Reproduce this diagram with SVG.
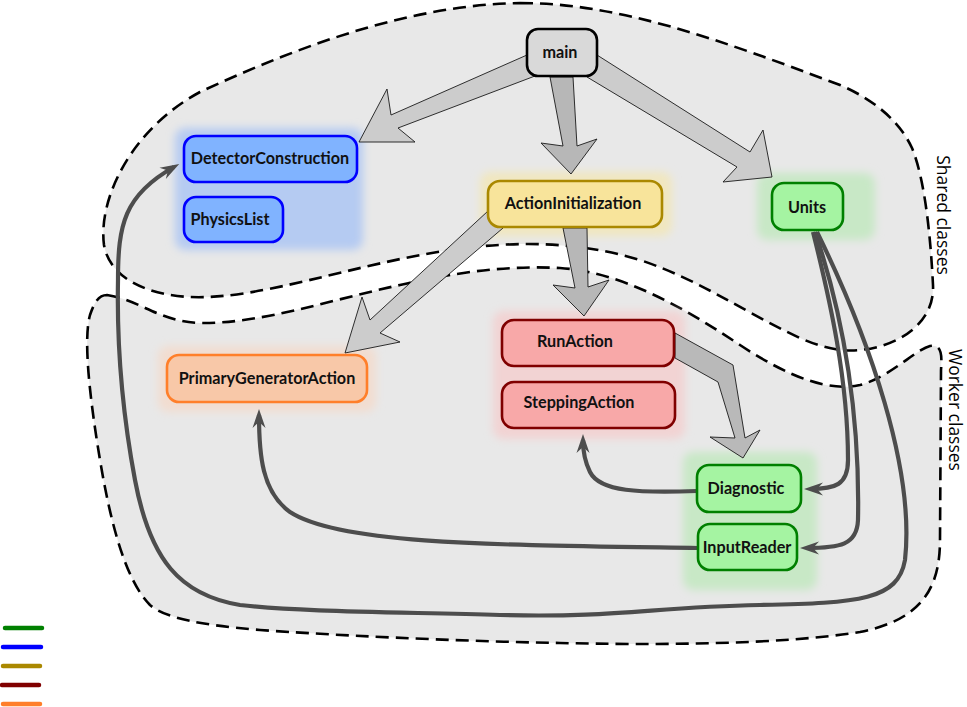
<svg xmlns="http://www.w3.org/2000/svg" width="967" height="707" viewBox="0 0 967 707">
  <style>
    .region { fill: #e8e8e8; stroke: #000; stroke-width: 2.6; stroke-dasharray: 13 7; }
    .glow { filter: url(#soft); }
    .fat { stroke: #1a1a1a; stroke-width: 0.9; stroke-linejoin: miter; }
    .link { fill: none; stroke: #4d4d4d; stroke-width: 4.2; marker-end: url(#head); }
    .box { stroke-width: 2.6; }
    .label { font-family: Lato, "Open Sans", "DejaVu Sans", sans-serif; font-weight: bold; font-size: 16.2px; fill: #111; text-anchor: middle; }
    .side { font-family: "Open Sans", "DejaVu Sans", sans-serif; font-size: 17.5px; fill: #000; text-anchor: middle; }
    .legend { stroke-width: 4.5; stroke-linecap: round; }
  </style>
  <defs>
    <filter id="soft" x="-20%" y="-20%" width="140%" height="140%">
      <feGaussianBlur stdDeviation="4"/>
    </filter>
    <marker id="head" viewBox="-14 -8 22 16" refX="0" refY="0" markerWidth="22" markerHeight="16" markerUnits="userSpaceOnUse" orient="auto">
      <path d="M 6 0 L -13 -6.5 L -7 0 L -13 6.5 Z" fill="#4d4d4d"/>
    </marker>
  </defs>

  <!-- class regions -->
  <g id="worker-region">
    <path class="region" d="M 107 295 C 140 300, 160 322, 200 323 C 260 324, 330 300, 400 285 C 450 274, 500 265, 560 268 C 620 272, 680 305, 740 345 C 790 378, 830 392, 860 385 C 890 377, 915 350, 930 346 C 942 344, 942 355, 941 370 L 940 540 C 940 590, 920 620, 860 632 C 780 645, 650 645, 560 643 C 450 641, 330 635, 260 630 C 200 625, 165 618, 150 605 C 125 580, 110 520, 100 460 C 90 400, 83 340, 90 315 C 95 300, 100 295, 107 295 Z"/>
    <text class="side" transform="translate(949 410) rotate(90)">Worker classes</text>
  </g>
  <g id="shared-region">
    <path class="region" d="M 520 3 C 620 3, 720 40, 840 85 C 875 100, 900 122, 912 148 C 926 182, 931 245, 933 285 C 935 325, 895 347, 860 350 C 840 352, 820 347, 800 338 C 740 310, 700 280, 640 260 C 580 242, 520 240, 450 250 C 350 265, 260 300, 190 297 C 150 295, 110 280, 104 245 C 98 200, 130 130, 200 92 C 280 55, 400 5, 520 3 Z"/>
    <text class="side" transform="translate(937 215) rotate(90)">Shared classes</text>
  </g>

  <!-- soft group backgrounds -->
  <g id="glows">
    <rect class="glow" x="175" y="128" width="188" height="122" rx="10" fill="#b5cbf2"/>
    <rect class="glow" x="480" y="172" width="192" height="64" rx="10" fill="#f1e7bf"/>
    <rect class="glow" x="757" y="173" width="118" height="67" rx="10" fill="#c8e8c6"/>
    <rect class="glow" x="493" y="311" width="192" height="128" rx="10" fill="#f2d3d3"/>
    <rect class="glow" x="683" y="452" width="134" height="138" rx="10" fill="#c8e8c6"/>
    <rect class="glow" x="158" y="346" width="218" height="66" rx="10" fill="#f2ddd0"/>
  </g>

  <!-- connectors -->
  <g id="connectors">
    <!-- ownership arrows -->
    <polygon class="fat" fill="#cccccc" points="527,55 391,115 387,89 359,142 415,142 398,128 535,76"/>
    <polygon class="fat" fill="#b7b7b7" points="550,77 563,146 541,143 571,174 597,139 577,146 573,77"/>
    <polygon class="fat" fill="#cccccc" points="597,55 750,152 763,130 772,177 723,182 737,167 587,77"/>
    <polygon class="fat" fill="#cccccc" points="488,211 370,320 362,297 345,353 400,342 380,333 503,228"/>
    <polygon class="fat" fill="#b7b7b7" points="563,228 575,288 553,285 584,316 609,280 588,287 587,228"/>
    <polygon class="fat" fill="#b9b9b9" points="675,333 733,365 745,438 760,430 743,458 710,437 735,438 718,382 675,358"/>

    <!-- usage links -->
    <path class="link" d="M 697 491 C 640 493, 600 492, 590 472 C 585 462, 583 450, 583 440"/>
    <path class="link" d="M 698 548 C 500 545, 340 545, 290 512 C 262 492, 259 455, 259 415"/>
    <path class="link" d="M 813 232 C 830 300, 848 380, 848 460 C 848 485, 835 489, 810 489"/>
    <path class="link" d="M 815 232 C 845 320, 860 420, 858 520 C 857 545, 840 548, 806 548"/>
    <path class="link" d="M 817 232 C 870 340, 915 470, 905 560 C 898 600, 860 603, 760 605 C 650 607, 620 618, 500 615 C 400 612, 300 612, 240 605 C 180 595, 150 560, 135 480 C 120 400, 117 330, 118 280 C 118 225, 124 195, 174 167"/>
  </g>

  <!-- nodes -->
  <g id="main">
    <rect class="box" x="527" y="29" width="70" height="47" rx="11" fill="#d9d9d9" stroke="#000" stroke-width="3"/>
    <text class="label" x="560" y="58">main</text>
  </g>
  <g id="DetectorConstruction">
    <rect class="box" x="184" y="136" width="173" height="46" rx="12" fill="#80b3ff" stroke="#0000ff"/>
    <text class="label" x="270" y="164">DetectorConstruction</text>
  </g>
  <g id="PhysicsList">
    <rect class="box" x="184" y="197" width="99" height="45" rx="12" fill="#80b3ff" stroke="#0000ff"/>
    <text class="label" x="230" y="225">PhysicsList</text>
  </g>
  <g id="ActionInitialization">
    <rect class="box" x="488" y="181" width="174" height="46" rx="12" fill="#f8e49b" stroke="#aa8800"/>
    <text class="label" x="573" y="209">ActionInitialization</text>
  </g>
  <g id="Units">
    <rect class="box" x="772" y="183" width="71" height="47" rx="12" fill="#a5f4a2" stroke="#008000"/>
    <text class="label" x="807" y="213">Units</text>
  </g>
  <g id="RunAction">
    <rect class="box" x="502" y="320" width="172" height="46" rx="12" fill="#f8a8a8" stroke="#800000"/>
    <text class="label" x="575" y="347">RunAction</text>
  </g>
  <g id="SteppingAction">
    <rect class="box" x="502" y="382" width="173" height="46" rx="12" fill="#f8a8a8" stroke="#800000"/>
    <text class="label" x="579" y="408">SteppingAction</text>
  </g>
  <g id="PrimaryGeneratorAction">
    <rect class="box" x="167" y="355" width="200" height="47" rx="12" fill="#f8c8a8" stroke="#ff7f2a"/>
    <text class="label" x="267" y="384">PrimaryGeneratorAction</text>
  </g>
  <g id="Diagnostic">
    <rect class="box" x="697" y="465" width="104" height="47" rx="12" fill="#a5f4a2" stroke="#008000"/>
    <text class="label" x="746" y="494">Diagnostic</text>
  </g>
  <g id="InputReader">
    <rect class="box" x="698" y="524" width="99" height="46" rx="12" fill="#a5f4a2" stroke="#008000"/>
    <text class="label" x="747" y="553">InputReader</text>
  </g>

  <!-- colour key -->
  <g id="legend">
    <line class="legend" x1="5" y1="628" x2="42" y2="628" stroke="#008000"/>
    <line class="legend" x1="3" y1="647" x2="41" y2="647" stroke="#0000ff"/>
    <line class="legend" x1="3" y1="666" x2="40" y2="666" stroke="#aa8800"/>
    <line class="legend" x1="2" y1="685" x2="39" y2="685" stroke="#800000"/>
    <line class="legend" x1="3" y1="704" x2="40" y2="704" stroke="#ff7f2a"/>
  </g>
</svg>
